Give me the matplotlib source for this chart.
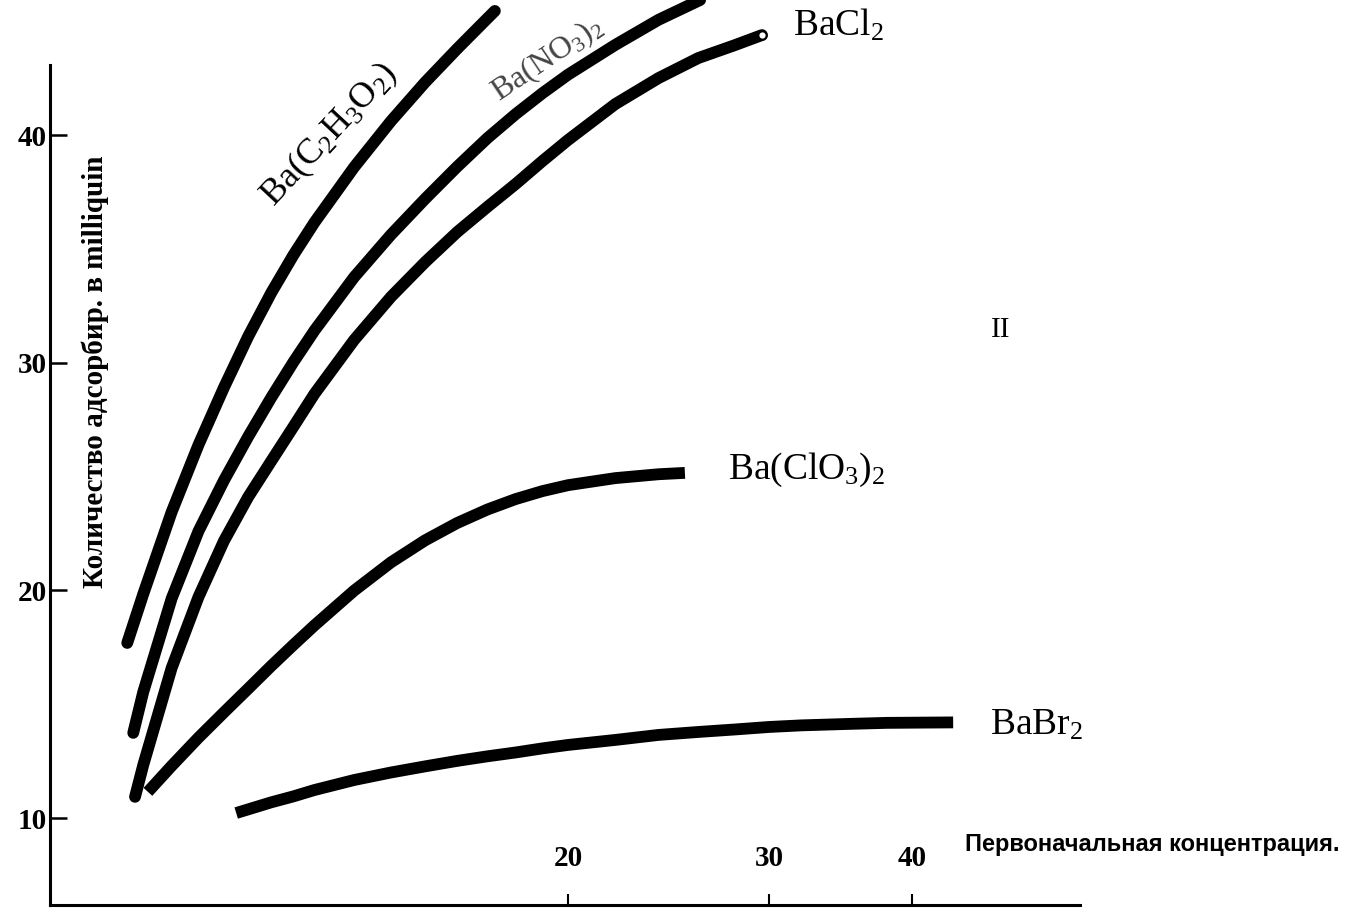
import matplotlib
matplotlib.use("Agg")
import matplotlib.pyplot as plt

plt.rcParams['font.family'] = ['Liberation Serif', 'DejaVu Serif']
plt.rcParams['mathtext.fontset'] = 'custom'
plt.rcParams['mathtext.rm'] = 'Liberation Serif'
plt.rcParams['mathtext.it'] = 'Liberation Serif:italic'
plt.rcParams['mathtext.bf'] = 'Liberation Serif:bold'

# initial concentration (log axis) vs adsorbed amount
acetate_x = [8.23, 8.5, 9, 9.5, 10, 10.5, 11, 11.5, 12, 13, 14, 15, 16, 17, 17.26]
acetate_y = [17.69, 19.84, 23.44, 26.39, 28.91, 31.15, 33.07, 34.72, 36.16, 38.59, 40.61,
             42.32, 43.79, 45.12, 45.45]

nitrate_x = [8.33, 8.5, 9, 9.5, 10, 10.5, 11, 11.5, 12, 13, 14, 15, 16, 17, 18, 19, 20,
             22, 24, 26.1]
nitrate_y = [13.74, 15.54, 19.64, 22.60, 24.83, 26.75, 28.47, 30.02, 31.41, 33.76, 35.62,
             37.20, 38.61, 39.86, 40.92, 41.84, 42.65, 43.96, 45.06, 45.93]

chloride_x = [8.36, 8.5, 9, 9.5, 10, 10.5, 11, 11.5, 12, 13, 14, 15, 16, 17, 18, 19, 20,
              22, 24, 26, 28, 29.56]
chloride_y = [10.93, 12.33, 16.59, 19.71, 22.17, 24.10, 25.68, 27.18, 28.63, 31.00, 32.89,
              34.42, 35.74, 36.84, 37.85, 38.86, 39.78, 41.36, 42.50, 43.38, 43.95, 44.39]

chlorate_x = [8.58, 9, 9.5, 10, 10.5, 11, 11.5, 12, 13, 14, 15, 16, 17, 18, 19, 20, 22,
              24, 25.31]
chlorate_y = [11.15, 12.29, 13.53, 14.64, 15.68, 16.68, 17.60, 18.46, 19.99, 21.23, 22.20,
              22.96, 23.55, 24.01, 24.36, 24.62, 24.93, 25.10, 25.16]

bromide_x = [10.25, 10.5, 11, 11.5, 12, 13, 14, 15, 16, 17, 18, 19, 20, 22, 24, 26, 28,
             30, 32, 35, 38, 43.45]
bromide_y = [10.22, 10.38, 10.69, 10.95, 11.23, 11.67, 12.00, 12.27, 12.51, 12.71, 12.88,
             13.06, 13.21, 13.43, 13.65, 13.78, 13.89, 14.00, 14.07, 14.13, 14.18, 14.20]

x_ticks = [20, 30, 40]
y_ticks = [10, 20, 30, 40]

fig = plt.figure(figsize=(13.48, 9.09), dpi=100)
ax = fig.add_axes([50 / 1348, 4 / 909, 1 - 50 / 1348, 905 / 909])
ax.set_xscale('log')
ax.set_xlim(7.044, 96.26)
ax.set_ylim(6.18, 45.93)

lw = 8.5
ax.plot(acetate_x, acetate_y, color='black', lw=lw, solid_capstyle='round')
ax.plot(nitrate_x, nitrate_y, color='black', lw=lw, solid_capstyle='round')
ax.plot(chloride_x, chloride_y, color='black', lw=lw, solid_capstyle='round')
ax.plot(chlorate_x, chlorate_y, color='black', lw=lw, solid_capstyle='butt')
ax.plot(bromide_x, bromide_y, color='black', lw=lw, solid_capstyle='butt')
# small open ring at the end of the BaCl2 curve
ax.plot(chloride_x[-1:], chloride_y[-1:], marker='o', ms=6, mfc='white', mec='black', mew=1.5)

# curve labels
ax.text(12.38, 40.0, r'Ba(C$_2$H$_3$O$_2$)', fontsize=26, rotation=47,
        ha='center', va='center')
ax.text(19.2, 43.3, r'Ba(NO$_3$)$_2$', fontsize=23, rotation=34,
        ha='center', va='center', color='#444444')
ax.text(31.5, 44.83, r'BaCl$_2$', fontsize=27, ha='left', va='center')
ax.text(27.6, 25.29, r'Ba(ClO$_3$)$_2$', fontsize=27, ha='left', va='center')
ax.text(46.8, 14.09, r'BaBr$_2$', fontsize=27, ha='left', va='center')
ax.text(47.8, 31.44, 'II', fontsize=21, ha='center', va='center')

ax.text(44.5, 8.82, 'Первоначальная концентрация.', fontsize=17, fontweight='bold',
        family=['Liberation Sans', 'DejaVu Sans'], ha='left', va='center')
fig.text(95 / 1348, 1 - 372 / 909, 'Количество адсорбир. в milliquin', rotation=90,
         fontsize=21, fontweight='bold', ha='center', va='center')

# axes styling
for s in ['top', 'right']:
    ax.spines[s].set_visible(False)
ax.spines['left'].set_linewidth(2.2)
ax.spines['bottom'].set_linewidth(2.2)
ax.spines['left'].set_bounds(6.18, 43.07)
ax.spines['bottom'].set_bounds(7.044, 56.1)

ax.set_xticks(x_ticks)
ax.set_xticklabels([str(v) for v in x_ticks])
ax.xaxis.set_minor_locator(matplotlib.ticker.NullLocator())
ax.set_yticks(y_ticks)
ax.set_yticklabels([str(v) for v in y_ticks])
ax.tick_params(axis='x', direction='in', length=8, width=1.5, pad=-43, labelsize=21)
ax.tick_params(axis='y', direction='in', length=12, width=1.8, pad=2, labelsize=21)
for lab in ax.get_xticklabels() + ax.get_yticklabels():
    lab.set_fontweight('bold')

fig.savefig('out.png', dpi=100, facecolor='white')
